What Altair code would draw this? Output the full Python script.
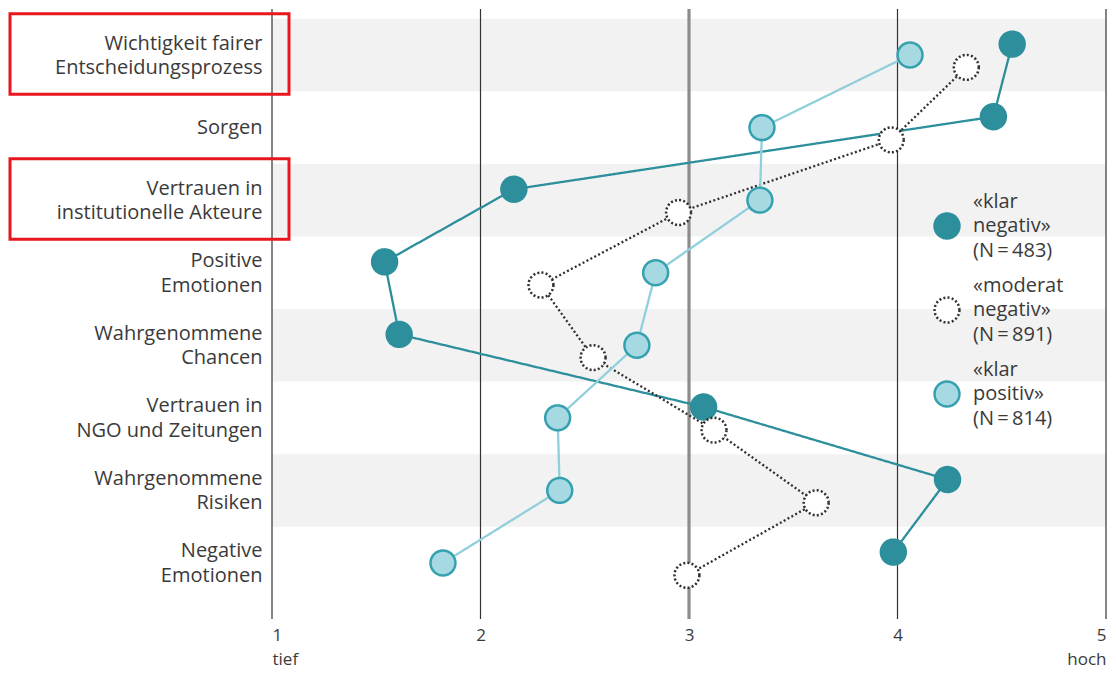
import json
import altair as alt
import pandas as pd

# ---------------- data ----------------
category_lines = [
    ["Wichtigkeit fairer", "Entscheidungsprozess"],
    ["Sorgen"],
    ["Vertrauen in", "institutionelle Akteure"],
    ["Positive", "Emotionen"],
    ["Wahrgenommene", "Chancen"],
    ["Vertrauen in", "NGO und Zeitungen"],
    ["Wahrgenommene", "Risiken"],
    ["Negative", "Emotionen"],
]
categories = [" ".join(l) for l in category_lines]

series_names = ["klar negativ", "moderat negativ", "klar positiv"]
series_label_lines = {
    "klar negativ": ["«klar", "negativ»", "(N\u2009=\u2009483)"],
    "moderat negativ": ["«moderat", "negativ»", "(N\u2009=\u2009891)"],
    "klar positiv": ["«klar", "positiv»", "(N\u2009=\u2009814)"],
}

klar_negativ = [4.55, 4.46, 2.16, 1.54, 1.61, 3.07, 4.24, 3.98]
moderat_negativ = [4.33, 3.97, 2.95, 2.29, 2.54, 3.12, 3.61, 2.99]
klar_positiv = [4.06, 3.35, 3.34, 2.84, 2.75, 2.37, 2.38, 1.82]

x_ticks = [1, 2, 3, 4, 5]
x_tick_words = {1: "tief", 5: "hoch"}
highlighted = [
    "Wichtigkeit fairer Entscheidungsprozess",
    "Vertrauen in institutionelle Akteure",
]

# ---------------- styles ----------------
ROW_OFFSET = {"klar negativ": -0.15, "klar positiv": 0.0, "moderat negativ": 0.17}
DARK = "#2d8f9c"
LIGHT_FILL = "#a7d9e3"
LIGHT_STROKE = "#35a1b0"
LIGHT_LINE = "#90cfdb"
DOT = "#2f2f2f"
TXT = "#3a3a3a"
FONT = "Open Sans"
LH = 24.5

values = {"klar negativ": klar_negativ, "moderat negativ": moderat_negativ, "klar positiv": klar_positiv}
rows = []
for s in series_names:
    for i, c in enumerate(categories):
        rows.append({"series": s, "category": c, "idx": i,
                     "value": values[s][i], "ypos": i + ROW_OFFSET[s]})
df = pd.DataFrame(rows)

bands = pd.DataFrame({"idx": [i for i in range(len(categories)) if i % 2 == 0]})
bands["y0"] = bands["idx"] - 0.5
bands["y1"] = bands["idx"] + 0.5

boxes = pd.DataFrame({"category": highlighted})
boxes["idx"] = [categories.index(c) for c in highlighted]
boxes["y0"] = boxes["idx"] - 0.57
boxes["y1"] = boxes["idx"] + 0.54

ticks_df = pd.DataFrame({"tick": x_ticks})

legend_df = pd.DataFrame({
    "series": series_names,
    "lrow": list(range(len(series_names))),
    "text": ["\n".join(series_label_lines[s]) for s in series_names],
})

x_scale = alt.Scale(domain=[1, 5], nice=False, zero=False)
y_scale = alt.Scale(domain=[-0.634, 7.772], reverse=True, nice=False, zero=False)
fill_scale = alt.Scale(domain=series_names, range=[DARK, "#ffffff", LIGHT_FILL])
stroke_scale = alt.Scale(domain=series_names, range=[DARK, DOT, LIGHT_STROKE])
dash_scale = alt.Scale(domain=series_names, range=[[1, 0], [2, 2.2], [1, 0]])

x_label_expr = " : ".join(
    [f"datum.value == {k} ? ['{k}', '{w}']" for k, w in x_tick_words.items()]
) + " : datum.label"
cat_json = json.dumps(category_lines)
y_label_expr = cat_json + "[datum.value]"

x_axis = alt.Axis(values=x_ticks, format="d", grid=False, domain=False, ticks=False,
                  labelExpr=x_label_expr, labelFlush=True, labelFontSize=17,
                  labelLineHeight=24, labelPadding=8, labelColor=TXT,
                  labelFont=FONT, title=None)
y_axis = alt.Axis(values=list(range(len(categories))), grid=False, domain=False,
                  ticks=False, labelExpr=y_label_expr, labelFontSize=20,
                  labelLineHeight=LH, labelPadding=10, labelOverlap=False,
                  labelFlush=False,
                  labelBaseline={"condition": {"test": f"length({cat_json}[datum.value]) > 1",
                                               "value": "line-bottom"},
                                 "value": "middle"},
                  labelColor=TXT, labelFont=FONT, labelLimit=400, title=None)

band_layer = alt.Chart(bands).mark_rect(color="#f2f2f2").encode(
    x=alt.datum(1, scale=x_scale),
    x2=alt.datum(5),
    y=alt.Y("y0:Q", scale=y_scale, axis=y_axis),
    y2="y1:Q",
)

grid_layer = alt.Chart(ticks_df).mark_rule().encode(
    x=alt.X("tick:Q", scale=x_scale, axis=x_axis),
    color=alt.condition("datum.tick == 3", alt.value("#8c8c8c"), alt.value("#333333")),
    strokeWidth=alt.condition("datum.tick == 3", alt.value(3.2), alt.value(1.2)),
)

line_layer = alt.Chart(df).mark_line(strokeWidth=2.3).encode(
    x=alt.X("value:Q", scale=x_scale),
    y=alt.Y("ypos:Q", scale=y_scale),
    stroke=alt.Stroke("series:N", scale=alt.Scale(domain=series_names, range=[DARK, DOT, LIGHT_LINE]), legend=None),
    strokeDash=alt.condition("datum.series == 'moderat negativ'", alt.value([2, 2.4]), alt.value([1, 0])),
    order=alt.Order("idx:Q"),
    detail="series:N",
)

point_layer = alt.Chart(df).mark_point(shape="circle", filled=True, size=620, strokeWidth=2.5, opacity=1).encode(
    x=alt.X("value:Q", scale=x_scale),
    y=alt.Y("ypos:Q", scale=y_scale),
    fill=alt.Fill("series:N", scale=fill_scale, legend=None),
    stroke=alt.Stroke("series:N", scale=stroke_scale, legend=None),
    strokeDash=alt.StrokeDash("series:N", scale=dash_scale, legend=None),
)

box_layer = alt.Chart(boxes).mark_rect(fill="transparent", stroke="#e8161d", strokeWidth=3).encode(
    x=alt.value(-262),
    x2=alt.value(17),
    y=alt.Y("y0:Q", scale=y_scale),
    y2="y1:Q",
)

main = alt.layer(band_layer, grid_layer, line_layer, point_layer, box_layer).resolve_scale(
    stroke="independent"
)

# custom legend (multi-line entries)
legend_y = alt.Scale(domain=[0, len(series_names) - 1], range=[217, 385])
legend_pts = alt.Chart(legend_df).mark_point(shape="circle", filled=True, size=620, strokeWidth=2.5, opacity=1).encode(
    x=alt.value(675),
    y=alt.Y("lrow:Q", scale=legend_y, axis=None),
    fill=alt.Fill("series:N", scale=fill_scale, legend=None),
    stroke=alt.Stroke("series:N", scale=stroke_scale, legend=None),
    strokeDash=alt.StrokeDash("series:N", scale=dash_scale, legend=None),
)
legend_txt = alt.Chart(legend_df).mark_text(
    align="left", baseline="middle", lineBreak="\n", lineHeight=LH, dy=-LH,
    fontSize=20, font=FONT, color=TXT,
).encode(
    x=alt.value(701),
    y=alt.Y("lrow:Q", scale=legend_y, axis=None),
    text="text:N",
)
legend_layer = alt.layer(legend_pts, legend_txt)

chart = alt.layer(main, legend_layer).resolve_scale(
    y="independent", stroke="independent", fill="independent", strokeDash="independent"
).properties(
    width=834, height=610,
    padding={"left": 264, "top": 1, "right": 2, "bottom": 52},
    autosize=alt.AutoSizeParams(type="none"),
    background="white",
).configure_view(stroke=None)

chart.save("out.html", embed_options={"renderer": "svg", "actions": False})
